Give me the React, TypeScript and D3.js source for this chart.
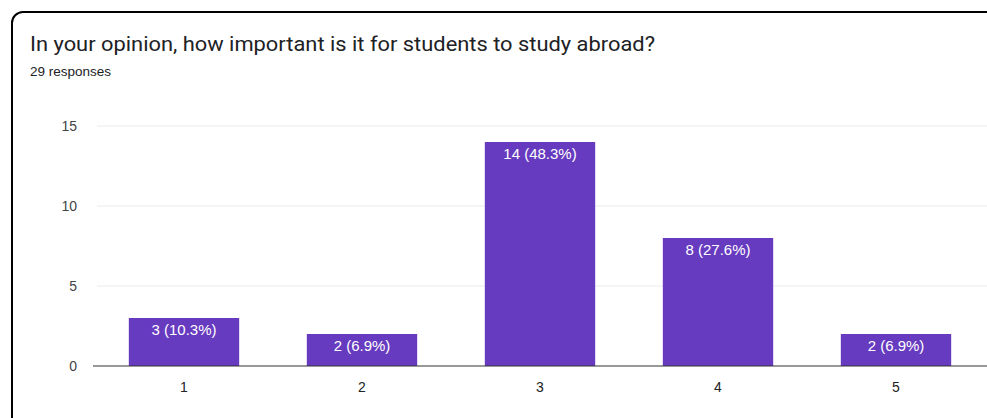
import * as d3 from "d3";
import React from "react";

const title = "In your opinion, how important is it for students to study abroad?";
const subtitle = "29 responses";
const categories = ["1", "2", "3", "4", "5"];
const counts = [3, 2, 14, 8, 2];
const barLabels = ["3 (10.3%)", "2 (6.9%)", "14 (48.3%)", "8 (27.6%)", "2 (6.9%)"];
const yTicks = [0, 5, 10, 15];

const W = 987;
const H = 418;
const BAR = "#673bbf";
const FONT = "Arial, 'Liberation Sans', sans-serif";

export default function App() {
  const x = d3
    .scaleBand<string>()
    .domain(categories)
    .range([95, 985])
    .paddingInner(0.38)
    .paddingOuter(0.19);
  const y = d3.scaleLinear().domain([0, 15]).range([366, 126]);

  return (
    <svg
      width={W}
      height={H}
      style={{ position: "absolute", left: 0, top: 0, background: "#fff" }}
    >
      <rect
        x={12}
        y={12}
        width={1000}
        height={420}
        rx={11}
        fill="#fff"
        stroke="#000"
        strokeWidth={2}
      />
      <text
        x={30}
        y={50.5}
        fontFamily="Roboto, Arial, sans-serif"
        fontSize={19.5}
        fill="#202124"
        textLength={625}
        lengthAdjust="spacingAndGlyphs"
      >
        {title}
      </text>
      <text
        x={30}
        y={76}
        fontFamily={FONT}
        fontSize={13.5}
        fill="#202124"
      >
        {subtitle}
      </text>

      {/* grid + y ticks */}
      {yTicks.map((t) => (
        <g key={t}>
          {t !== 0 && (
            <line x1={97} x2={W} y1={y(t)} y2={y(t)} stroke="#ebebeb" strokeWidth={1} />
          )}
          <text
            x={77}
            y={y(t)}
            dy="0.35em"
            textAnchor="end"
            fontFamily={FONT}
            fontSize={14}
            fill="#444"
          >
            {t}
          </text>
        </g>
      ))}

      {/* bars */}
      {categories.map((c, i) => (
        <g key={c}>
          <rect
            x={x(c)}
            y={y(counts[i])}
            width={x.bandwidth()}
            height={y(0) - y(counts[i])}
            fill={BAR}
          />
          <text
            x={(x(c) as number) + x.bandwidth() / 2}
            y={y(counts[i]) + 17}
            textAnchor="middle"
            fontFamily={FONT}
            fontSize={15}
            fill="#fff"
          >
            {barLabels[i]}
          </text>
          <text
            x={(x(c) as number) + x.bandwidth() / 2}
            y={392}
            textAnchor="middle"
            fontFamily={FONT}
            fontSize={14}
            fill="#222"
          >
            {c}
          </text>
        </g>
      ))}

      {/* baseline */}
      <line x1={93} x2={W} y1={y(0)} y2={y(0)} stroke="#333" strokeWidth={1.2} />
    </svg>
  );
}
